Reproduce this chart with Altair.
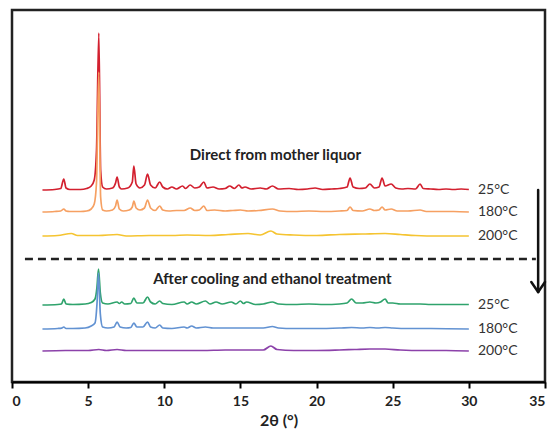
import altair as alt
import pandas as pd

# ---- data (2θ, intensity above each trace's baseline) ----
red_x = [2.0, 2.8, 3.2, 3.4, 3.55, 3.8, 4.5, 4.9, 5.2, 5.4, 5.55, 5.7, 5.82, 5.95, 6.2, 6.6, 6.8, 6.9, 7.05, 7.2,
         7.6, 7.9, 8.0, 8.15, 8.4, 8.7, 8.9, 9.1, 9.4, 9.7, 9.9, 10.2, 10.5, 10.8, 11.2, 11.4, 11.7, 12.0, 12.3,
         12.6, 12.8, 13.2, 13.6, 14.0, 14.3, 14.6, 14.9, 15.1, 15.3, 15.7, 16.3, 16.7, 17.1, 17.5, 18.2, 18.8,
         19.4, 19.9, 20.4, 21.0, 21.5, 22.0, 22.2, 22.4, 22.8, 23.2, 23.5, 23.8, 24.1, 24.3, 24.5, 24.9, 25.2,
         25.6, 26.0, 26.5, 26.8, 27.0, 27.5, 28.0, 28.5, 29.0, 29.5, 30.0]
red_y = [0, 0.5, 1.5, 11, 2, 0.5, 0.5, 1.5, 4, 10, 40, 157, 20, 3, 1, 2, 7, 13, 3, 1,
         2, 8, 24, 6, 2, 5, 16, 5, 2, 8, 3, 1, 3, 1, 4, 1.5, 5, 2, 3,
         8, 2, 3, 1, 1.5, 4, 1.5, 5, 2, 3, 1, 2, 1, 4, 1, 1.5, 0.5,
         1, 2, 0.5, 1, 1.5, 3, 12, 3, 1.5, 2, 6, 2, 3, 12, 4, 6, 2,
         1, 1.5, 1, 6, 1.5, 1, 0.5, 1, 0.5, 1, 0.5]

orange_x = [2.0, 2.8, 3.2, 3.4, 3.55, 3.8, 4.5, 4.9, 5.2, 5.4, 5.55, 5.7, 5.82, 5.95, 6.2, 6.6, 6.8, 6.9, 7.05, 7.3,
            7.7, 7.9, 8.0, 8.15, 8.4, 8.7, 8.9, 9.1, 9.4, 9.7, 9.9, 10.3, 10.8, 11.3, 11.7, 12.0, 12.3, 12.6,
            12.8, 13.3, 14.0, 14.5, 15.0, 15.5, 16.2, 17.1, 17.6, 18.5, 19.5, 20.5, 21.5, 22.0, 22.2, 22.4, 23.0,
            23.5, 23.8, 24.1, 24.3, 24.5, 24.9, 25.3, 26.0, 26.8, 27.2, 28.0, 29.0, 30.0]
orange_y = [0, 0.5, 1, 3, 1, 0.5, 0.5, 1, 3, 8, 30, 140, 15, 2, 1, 2, 6, 12, 3, 1,
            2, 5, 11, 4, 2, 4, 12, 4, 1.5, 6, 2, 1, 1.5, 1.5, 4, 1.5, 2, 6,
            1.5, 2, 1, 1.5, 2, 1, 1.5, 3, 1, 0.5, 1, 0.5, 1, 1.5, 5, 1.5, 1,
            3, 1.5, 2, 5, 2, 3, 1, 1, 2, 0.5, 0.5, 0.5, 0]

yellow_x = [2.0, 3.0, 3.9, 4.3, 5.7, 6.9, 7.5, 9.0, 10.5, 11.5, 13.0, 14.2, 15.5, 16.3, 17.0, 17.4, 18.5,
            20.0, 21.5, 23.0, 24.5, 25.5, 26.5, 28.0, 30.0]
yellow_y = [0, 0.5, 2.5, 0.5, 0.5, 1.5, 0, 0.5, 0.5, 1, 0.5, 1.5, 2.5, 1, 5, 2, 1,
            0.5, 1.5, 2, 2.5, 1.5, 0.5, 0, 0]

green_x = [2.0, 3.0, 3.25, 3.4, 3.55, 4.0, 4.8, 5.2, 5.45, 5.58, 5.68, 5.8, 5.95, 6.3, 6.9, 7.05, 7.2, 7.4,
           7.8, 8.0, 8.2, 8.6, 8.9, 9.1, 9.4, 9.7, 9.9, 10.5, 11.3, 11.5, 11.8, 12.1, 12.7, 13.0, 13.4, 13.8,
           14.4, 14.7, 15.0, 15.2, 15.4, 16.0, 16.5, 17.1, 17.5, 18.5, 19.5, 20.5, 21.5, 22.0, 22.3, 22.6,
           23.0, 23.5, 23.9, 24.2, 24.5, 24.7, 25.0, 25.5, 26.0, 26.8, 27.5, 28.5, 30.0]
green_y = [0, 0.5, 1, 6, 1, 0.5, 1, 2.5, 6, 18, 36, 12, 2, 1, 3, 1.5, 3, 1,
           1.5, 7, 2, 2, 8, 3, 1, 4, 1.5, 0.5, 3, 1, 3, 1, 4, 1, 3, 1,
           3, 1, 4, 1.5, 3, 0.5, 1, 3, 1, 0.5, 1, 0.5, 1, 2, 6, 2,
           2, 3, 2, 3, 6, 2, 2, 1, 1, 1, 0.5, 0.5, 0.5]

blue_x = [2.0, 3.0, 3.25, 3.4, 3.55, 4.0, 4.8, 5.2, 5.45, 5.58, 5.68, 5.8, 5.95, 6.3, 6.7, 6.9, 7.1, 7.5,
          7.8, 8.0, 8.2, 8.6, 8.9, 9.1, 9.4, 9.7, 9.9, 10.5, 11.3, 11.5, 11.8, 12.1, 12.7, 13.2, 14.5,
          15.5, 16.5, 17.1, 17.5, 18.5, 20.0, 21.5, 22.3, 23.0, 23.5, 24.0, 24.5, 25.0, 26.0, 27.5, 30.0]
blue_y = [0, 0.5, 0.8, 2, 0.5, 0.5, 1, 3, 6, 25, 56, 15, 2, 1, 2, 7, 2, 1,
          1.5, 6, 2, 2, 7, 2, 1, 4, 1, 0.5, 2, 1, 3, 1, 2, 1, 1,
          1, 1, 2.5, 1, 0.5, 0.5, 1, 1.5, 1, 1.5, 1, 1.5, 1, 0.5, 0.5, 0]

purple_x = [2.0, 3.5, 5.0, 5.7, 6.2, 6.9, 7.5, 9.0, 11.0, 12.5, 14.0, 15.5, 16.5, 17.0, 17.4, 18.5,
            20.0, 21.5, 22.5, 23.5, 24.5, 25.5, 27.0, 28.5, 30.0]
purple_y = [0, 0.5, 0.5, 1.5, 0.5, 1.5, 0.5, 0.5, 0.5, 0.5, 1, 1, 1, 5, 1.5, 0.5,
            0.5, 1, 1.5, 2, 2, 1, 0.5, 0.5, 0]

series_names = ["25°C direct", "180°C direct", "200°C direct", "25°C after", "180°C after", "200°C after"]
series_labels = ["25°C", "180°C", "200°C", "25°C", "180°C", "200°C"]
series_offsets = [192, 170, 146, 77, 53, 31]
series_colors = ["#d3202f", "#f6a062", "#f5c431", "#2fa36c", "#6292d2", "#8c42aa"]
series_xs = [red_x, orange_x, yellow_x, green_x, blue_x, purple_x]
series_ys = [red_y, orange_y, yellow_y, green_y, blue_y, purple_y]

section_titles = ["Direct from mother liquor", "After cooling and ethanol treatment"]
section_title_x = [17.3, 17.1]
section_title_y = [227, 103]

divider_y = 123
divider_x = [0.85, 34.4]

arrow_x = 34.55
arrow_y = [192, 90]
arrow_head_dx = 0.45
arrow_head_dy = 10

label_x = 30.6

# ---- chart ----
xscale = alt.Scale(domain=[0, 35], nice=False)
yscale = alt.Scale(domain=[0, 372], nice=False)

layers = []
for name, xs, ys, off, col in zip(series_names, series_xs, series_ys, series_offsets, series_colors):
    df = pd.DataFrame({"theta": xs, "inten": [v + off for v in ys], "order": range(len(xs))})
    layers.append(
        alt.Chart(df).mark_line(color=col, strokeWidth=1.7, interpolate="monotone").encode(
            x=alt.X("theta:Q", scale=xscale,
                    axis=alt.Axis(title="2θ (°)", values=[0, 5, 10, 15, 20, 25, 30, 35], grid=False,
                                  domainColor="black", domainWidth=2, tickColor="black", tickWidth=2,
                                  tickSize=6, labelFont="Lato", labelFontSize=14, labelFontWeight="bold",
                                  labelColor="#222", labelPadding=6, titleFont="Lato", titleFontSize=16,
                                  titleFontWeight="bold", titleColor="#222", titlePadding=4)),
            y=alt.Y("inten:Q", scale=yscale, axis=None),
            order="order:Q",
        )
    )

lab_df = pd.DataFrame({"x": [label_x] * 6, "y": series_offsets, "t": series_labels})
labels = alt.Chart(lab_df).mark_text(align="left", baseline="middle", font="Lato", fontSize=14,
                                     color="#333").encode(
    x=alt.X("x:Q", scale=xscale), y=alt.Y("y:Q", scale=yscale), text="t:N")

tit_df = pd.DataFrame({"x": section_title_x, "y": section_title_y, "t": section_titles})
titles = alt.Chart(tit_df).mark_text(align="center", baseline="middle", font="Lato", fontSize=15,
                                     fontWeight="bold", color="#222").encode(
    x=alt.X("x:Q", scale=xscale), y=alt.Y("y:Q", scale=yscale), text="t:N")

div_df = pd.DataFrame({"x": [divider_x[0]], "x2": [divider_x[1]], "y": [divider_y]})
divider = alt.Chart(div_df).mark_rule(color="#222", strokeWidth=2.5, strokeDash=[8, 5]).encode(
    x=alt.X("x:Q", scale=xscale), x2="x2:Q", y=alt.Y("y:Q", scale=yscale))

arr_df = pd.DataFrame({
    "x": [arrow_x, arrow_x - arrow_head_dx, arrow_x + arrow_head_dx],
    "x2": [arrow_x, arrow_x, arrow_x],
    "y": [arrow_y[0], arrow_y[1] + arrow_head_dy, arrow_y[1] + arrow_head_dy],
    "y2": [arrow_y[1], arrow_y[1], arrow_y[1]],
})
arrow = alt.Chart(arr_df).mark_rule(color="#111", strokeWidth=2.5, strokeCap="round").encode(
    x=alt.X("x:Q", scale=xscale), x2="x2:Q", y=alt.Y("y:Q", scale=yscale), y2="y2:Q")

chart = alt.layer(*layers, divider, arrow, labels, titles).properties(
    width=533, height=372,
    autosize="none",
    padding={"left": 12, "top": 10, "right": 8, "bottom": 49},
    background="white",
).configure_view(stroke="#222", strokeWidth=2.5)

chart.save("out.html", embed_options={"renderer": "svg", "actions": False})
